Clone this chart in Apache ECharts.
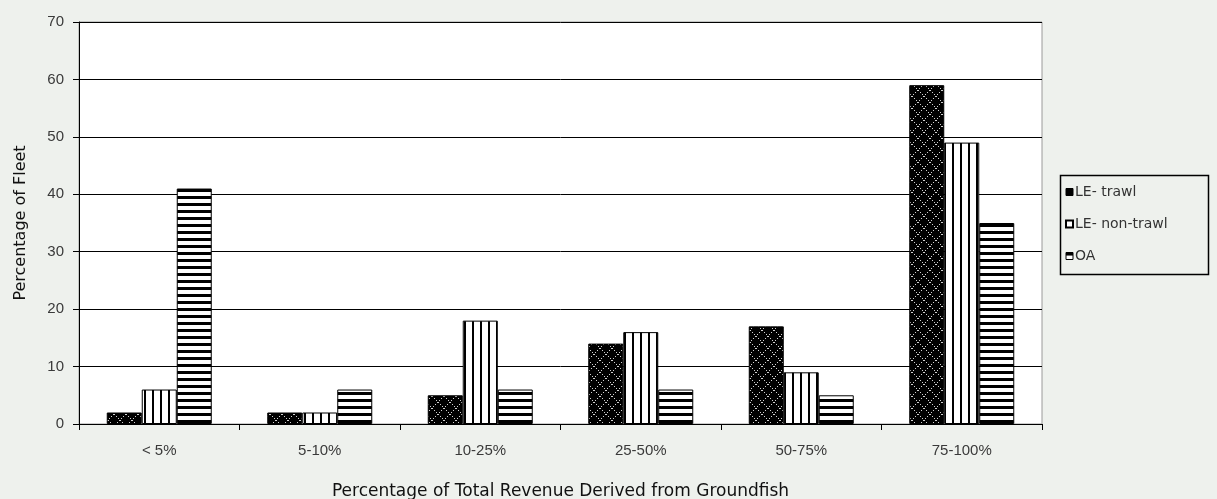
<!DOCTYPE html>
<html>
<head>
<meta charset="utf-8">
<script src="https://cdn.jsdelivr.net/npm/echarts@6/dist/echarts.min.js"></script>
<style>
  html, body { margin: 0; padding: 0; background: #eef1ed; }
  #chart { width: 1217px; height: 499px; }
</style>
</head>
<body>
<div id="chart"></div>
<script>
// Share of fleet by dependence on groundfish revenue
const categories = ['< 5%', '5-10%', '10-25%', '25-50%', '50-75%', '75-100%'];
const leTrawl    = [2, 2, 5, 14, 17, 59];
const leNonTrawl = [6, 2, 18, 16, 9, 49];
const openAccess = [41, 6, 6, 6, 5, 35];
const yTicks = { min: 0, max: 70, interval: 10 };

// Hatch fills in the style of a monochrome office chart
function tile(w, h, draw) {
  const c = document.createElement('canvas');
  c.width = w; c.height = h;
  draw(c.getContext('2d'), w, h);
  return c;
}
const diamondFill = tile(12, 12, (g, w, h) => {
  g.fillStyle = '#000'; g.fillRect(0, 0, w, h);
  g.fillStyle = '#d0d0d0';
  for (let i = 0; i < w; i++) {
    if (i % 2 === 0) {
      g.fillRect(i, i, 1, 1);
      g.fillRect(w - 1 - i, i, 1, 1);
    }
  }
});
const verticalFill = tile(8, 8, (g, w, h) => {
  g.fillStyle = '#fff'; g.fillRect(0, 0, w, h);
  g.fillStyle = '#000'; g.fillRect(0, 0, 2, h);
});
const horizontalFill = tile(7, 7, (g, w, h) => {
  g.fillStyle = '#fff'; g.fillRect(0, 0, w, h);
  g.fillStyle = '#000'; g.fillRect(0, 0, w, 3);
});

const tickFont = '"Liberation Sans", Arial, sans-serif';
const wideFont = '"DejaVu Sans", Verdana, sans-serif';
const chart = echarts.init(document.getElementById('chart'));

function bar(name, data, fill) {
  return {
    name, type: 'bar', data,
    barWidth: 35, barGap: '0%',
    itemStyle: { color: { image: fill, repeat: 'repeat' }, borderColor: '#000', borderWidth: 1 },
    emphasis: { disabled: true }
  };
}

chart.setOption({
  backgroundColor: '#eef1ed',
  animation: false,
  grid: {
    left: 79, right: 175, top: 22, bottom: 75,
    containLabel: false, outerBoundsMode: 'none',
    show: true, backgroundColor: '#fff', borderColor: '#9a9a9a', borderWidth: 1
  },
  graphic: [{
    type: 'rect', left: 1058, top: 173,
    shape: { width: 148, height: 99 },
    style: { fill: 'none', stroke: '#000', lineWidth: 1.5 },
    z: 10
  }],
  legend: {
    orient: 'vertical', left: 1065, top: 185,
    padding: 0, itemGap: 18,
    itemWidth: 7, itemHeight: 7, icon: 'rect',
    textStyle: { fontFamily: wideFont, fontSize: 14, color: '#333', padding: [0, 0, 0, -3] },
    data: [
      { name: 'LE- trawl', itemStyle: { color: '#000', borderColor: '#000', borderWidth: 1 } },
      { name: 'LE- non-trawl', itemStyle: { color: '#fff', borderColor: '#000', borderWidth: 2 } },
      { name: 'OA', itemStyle: { color: { image: horizontalFill, repeat: 'repeat' }, borderColor: '#000', borderWidth: 1 } }
    ]
  },
  xAxis: {
    type: 'category', data: categories,
    name: 'Percentage of Total Revenue Derived from Groundfish',
    nameLocation: 'middle', nameGap: 59,
    nameTextStyle: { fontFamily: wideFont, fontSize: 17, color: '#111' },
    axisLine: { lineStyle: { color: '#000', width: 1 } },
    axisTick: { show: true, length: 6, lineStyle: { color: '#000' } },
    axisLabel: { fontFamily: tickFont, fontSize: 15, color: '#3a3a3a', margin: 19 }
  },
  yAxis: {
    type: 'value', min: yTicks.min, max: yTicks.max, interval: yTicks.interval,
    name: 'Percentage of Fleet', nameLocation: 'middle', nameGap: 50,
    nameTextStyle: { fontFamily: wideFont, fontSize: 16, color: '#111' },
    axisLine: { show: true, lineStyle: { color: '#000', width: 1 } },
    axisTick: { show: true, length: 6, lineStyle: { color: '#000' } },
    axisLabel: { fontFamily: tickFont, fontSize: 15, color: '#3a3a3a', margin: 15 },
    splitLine: { lineStyle: { color: '#000', width: 1 } }
  },
  series: [
    bar('LE- trawl', leTrawl, diamondFill),
    bar('LE- non-trawl', leNonTrawl, verticalFill),
    bar('OA', openAccess, horizontalFill)
  ]
});
</script>
</body>
</html>
